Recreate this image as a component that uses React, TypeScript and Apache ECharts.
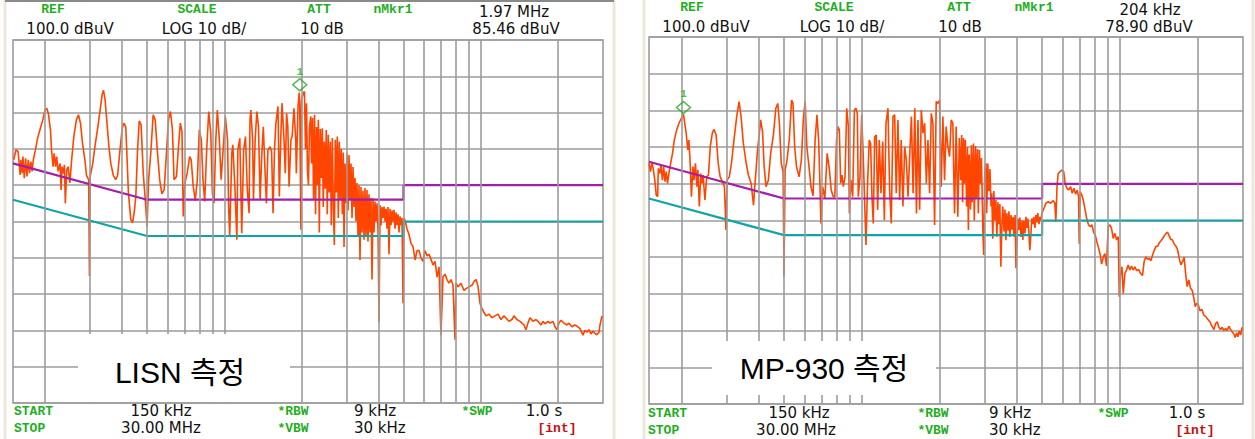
import React, { useEffect, useRef } from "react";
import * as echarts from "echarts";

// ---------- data ----------
const gridFreqs = [0.2, 0.3, 0.4, 0.5, 0.6, 0.7, 0.8, 0.9, 1, 2, 3, 4, 5, 6, 7, 8, 9, 10, 20];
const limitFreq = [0.15, 0.5, 5, 5, 30];
const qpLimit = [66, 56, 56, 60, 60];
const avLimit = [56, 46, 46, 50, 50];

const markerFreq = [1.97, 0.204];
const markerLevel = [85.46, 78.9];
const markerFreqText = ["1.97 MHz", "204 kHz"];
const markerLevelText = ["85.46 dBuV", "78.90 dBuV"];
const headerLabels = ["REF", "SCALE", "ATT", "nMkr1"];
const headerValues = ["100.0 dBuV", "LOG 10 dB/", "10 dB"];
const footerRow1 = ["START", "150 kHz", "*RBW", "9 kHz", "*SWP", "1.0 s"];
const footerRow2 = ["STOP", "30.00 MHz", "*VBW", "30 kHz", "[int]"];
const panelTitles = ["LISN 측정", "MP-930 측정"];

// LISN trace: [MHz, dBuV]
const lisnTrace = [
  [0.151, 67.0], [0.154, 69.7], [0.157, 69.3], [0.16, 62.8], [0.161, 67.0], [0.163, 63.3], [0.164, 67.9], [0.166, 61.9],
  [0.168, 67.4], [0.17, 62.4], [0.172, 67.0], [0.174, 63.3], [0.176, 66.5], [0.178, 63.8], [0.18, 67.0], [0.183, 69.3],
  [0.187, 72.9], [0.191, 75.2], [0.196, 78.0], [0.2, 80.7], [0.203, 81.2], [0.206, 79.8], [0.21, 75.2], [0.212, 69.7],
  [0.215, 65.1], [0.217, 68.8], [0.22, 65.1], [0.222, 67.9], [0.225, 63.8], [0.229, 66.0], [0.231, 58.7], [0.233, 65.1],
  [0.236, 63.3], [0.238, 65.6], [0.24, 55.0], [0.243, 64.2], [0.246, 65.1], [0.25, 60.6], [0.254, 67.0], [0.259, 73.4],
  [0.265, 78.0], [0.27, 79.4], [0.275, 77.1], [0.28, 71.6], [0.286, 67.0], [0.29, 62.8], [0.296, 61.5], [0.298, 35.0],
  [0.3, 62.4], [0.307, 66.0], [0.313, 70.6], [0.32, 75.2], [0.328, 80.7], [0.334, 84.9], [0.338, 86.2], [0.343, 83.5],
  [0.348, 78.0], [0.355, 70.6], [0.361, 66.0], [0.369, 62.8], [0.377, 61.5], [0.384, 62.8], [0.392, 69.7], [0.4, 75.7],
  [0.406, 77.1], [0.413, 76.0], [0.418, 67.0], [0.423, 57.8], [0.432, 50.5], [0.439, 49.7], [0.446, 52.8], [0.452, 56.9],
  [0.459, 69.7], [0.466, 77.7], [0.474, 76.6], [0.483, 63.3], [0.492, 56.0], [0.5, 48.6], [0.507, 61.5], [0.518, 69.7],
  [0.528, 79.4], [0.538, 78.0], [0.548, 69.7], [0.56, 61.5], [0.571, 57.6], [0.583, 58.7], [0.596, 69.7], [0.606, 78.0],
  [0.617, 80.3], [0.628, 75.2], [0.637, 61.5], [0.651, 62.4], [0.663, 70.6], [0.674, 77.1], [0.684, 74.8], [0.692, 51.4],
  [0.702, 60.6], [0.717, 63.3], [0.733, 67.9], [0.743, 67.0], [0.757, 59.6], [0.771, 55.8], [0.785, 61.5], [0.799, 75.2],
  [0.814, 72.5], [0.826, 61.5], [0.839, 55.5], [0.854, 69.7], [0.87, 80.3], [0.886, 74.3], [0.899, 57.8], [0.912, 55.0],
  [0.927, 72.5], [0.94, 80.7], [0.957, 72.5], [0.972, 61.5], [0.99, 69.7], [1.01, 78.9], [1.03, 72.5], [1.04, 54.1],
  [1.05, 45.9], [1.07, 68.8], [1.08, 71.1], [1.1, 59.6], [1.12, 45.0], [1.13, 69.7], [1.15, 72.9], [1.17, 46.8],
  [1.19, 69.7], [1.21, 73.4], [1.23, 58.7], [1.25, 52.3], [1.26, 78.0], [1.27, 80.7], [1.29, 72.5], [1.3, 56.0],
  [1.32, 72.5], [1.34, 80.3], [1.36, 76.1], [1.38, 56.0], [1.4, 67.9], [1.42, 76.1], [1.44, 65.1], [1.46, 55.0],
  [1.48, 69.7], [1.51, 70.6], [1.53, 69.3], [1.55, 52.3], [1.57, 69.7], [1.59, 77.1], [1.62, 81.7], [1.64, 56.9],
  [1.66, 72.5], [1.68, 82.6], [1.71, 72.5], [1.73, 63.3], [1.75, 79.8], [1.77, 76.1], [1.79, 59.6], [1.82, 72.5],
  [1.84, 73.4], [1.87, 81.2], [1.9, 72.5], [1.91, 63.3], [1.94, 81.7], [1.96, 85.5], [1.97, 81.7], [1.99, 47.7],
  [2.0, 83.5], [2.033, 85.3], [2.055, 85.8], [2.074, 70], [2.093, 82.6], [2.111, 64], [2.13, 60], [2.15, 76],
  [2.174, 79], [2.19, 66], [2.21, 78.5], [2.23, 56], [2.25, 79.4], [2.27, 52], [2.291, 76], [2.311, 60],
  [2.328, 78], [2.348, 47], [2.369, 75.5], [2.39, 62], [2.412, 75.7], [2.433, 54], [2.455, 72], [2.477, 59],
  [2.499, 75.2], [2.522, 52], [2.544, 73.9], [2.567, 58], [2.592, 72], [2.615, 49], [2.639, 73], [2.663, 55],
  [2.687, 43.5], [2.711, 72.5], [2.735, 58], [2.76, 73.4], [2.785, 51], [2.81, 72], [2.836, 56], [2.861, 70],
  [2.887, 52], [2.913, 69], [2.932, 43], [2.958, 66], [2.985, 55], [3.012, 68.8], [3.039, 53], [3.066, 68.3],
  [3.094, 56], [3.122, 66], [3.15, 51], [3.178, 65], [3.207, 54], [3.236, 62], [3.265, 50], [3.294, 60.6],
  [3.324, 46], [3.354, 60], [3.384, 39.4], [3.414, 59.5], [3.445, 47], [3.476, 58.5], [3.508, 45], [3.539, 59.2],
  [3.571, 46], [3.603, 58.7], [3.636, 44.5], [3.669, 57.5], [3.703, 47], [3.736, 56.5], [3.77, 34], [3.804, 56.4],
  [3.838, 47], [3.873, 55.5], [3.908, 50], [3.943, 55], [3.978, 48], [4.014, 22.3], [4.051, 54.5], [4.087, 49],
  [4.124, 54], [4.161, 51], [4.199, 54.1], [4.237, 50], [4.275, 53.5], [4.313, 48], [4.352, 54], [4.391, 41],
  [4.431, 53.5], [4.471, 49], [4.511, 53], [4.552, 50], [4.593, 53.2], [4.634, 48], [4.676, 52.5], [4.718, 49],
  [4.761, 52], [4.804, 47], [4.847, 51.4], [4.891, 49], [4.935, 51], [4.979, 27.5], [5.024, 50.9],
  [5.07, 50.4], [5.16, 48], [5.25, 46.5], [5.35, 44], [5.45, 43], [5.55, 39.4], [5.65, 42], [5.75, 42],
  [5.85, 40], [5.96, 39], [6.07, 42], [6.18, 40.5], [6.29, 41], [6.41, 39.5], [6.52, 38], [6.64, 39],
  [6.76, 34.7], [6.88, 37.5], [7.0, 18.7], [7.13, 34.8], [7.26, 35.5], [7.39, 34], [7.52, 33], [7.66, 34],
  [7.8, 32.5], [7.94, 17.4], [8.01, 33], [8.16, 32], [8.38, 33], [8.61, 31], [8.77, 31.5], [9.01, 32],
  [9.26, 32.5], [9.42, 33.5], [9.6, 34], [9.77, 32], [9.94, 27.5], [10.12, 26], [10.3, 25], [10.49, 24],
  [10.77, 24.5], [11.07, 23.5], [11.37, 24], [11.68, 24.5], [12.0, 23], [12.33, 24], [12.55, 23.4], [12.89, 22.5],
  [13.24, 23], [13.48, 24], [13.85, 23], [14.23, 22.5], [14.49, 22], [14.75, 21.5], [15.02, 20.2], [15.29, 22],
  [15.57, 23.5], [16.0, 22.5], [16.43, 23], [16.73, 22.5], [17.19, 21.5], [17.5, 22.5], [17.82, 21.8], [18.3, 22.5],
  [18.63, 22], [19.14, 22.5], [19.49, 21], [19.84, 20.2], [20.2, 22], [20.57, 22.8], [21.13, 22], [21.7, 21.5],
  [22.1, 22], [22.7, 21], [23.3, 21.5], [23.74, 21.2], [24.4, 20.5], [25.06, 18.7], [25.5, 20], [25.97, 19.5],
  [26.44, 20.2], [26.92, 19], [27.4, 19.8], [27.9, 19.2], [28.4, 18.8], [28.94, 19.5], [29.2, 21.5], [29.73, 24],
];

// MP-930 trace: [MHz, dBuV]
const mpTrace = [
  [0.15, 65.6], [0.152, 63.3], [0.154, 66.0], [0.156, 63.7], [0.158, 61.0], [0.16, 56.9], [0.162, 56.5], [0.163, 64.2],
  [0.165, 62.8], [0.167, 65.1], [0.169, 61.0], [0.171, 64.7], [0.173, 60.6], [0.175, 63.3], [0.177, 60.1], [0.18, 63.8],
  [0.182, 65.6], [0.185, 68.3], [0.188, 71.9], [0.192, 74.7], [0.196, 76.5], [0.2, 77.8], [0.204, 78.9], [0.206, 76.9],
  [0.209, 73.8], [0.212, 69.2], [0.214, 71.9], [0.216, 67.4], [0.219, 56.5], [0.222, 64.7], [0.224, 61.0], [0.227, 65.6],
  [0.23, 59.2], [0.232, 63.8], [0.235, 53.8], [0.238, 62.8], [0.241, 60.1], [0.243, 62.4], [0.247, 55.6], [0.251, 61.9],
  [0.255, 62.4], [0.259, 70.1], [0.264, 73.9], [0.268, 74.8], [0.273, 73.3], [0.278, 65.6], [0.283, 61.9], [0.289, 60.6],
  [0.294, 59.2], [0.298, 47.4], [0.301, 61.0], [0.307, 61.9], [0.313, 65.6], [0.32, 71.9], [0.328, 78.3], [0.335, 82.4],
  [0.341, 78.3], [0.348, 71.0], [0.357, 65.6], [0.364, 62.4], [0.373, 60.1], [0.381, 54.2], [0.387, 61.0], [0.395, 69.2],
  [0.401, 73.3], [0.406, 77.4], [0.413, 74.2], [0.419, 64.7], [0.426, 59.2], [0.435, 61.0], [0.444, 68.3], [0.455, 73.3],
  [0.465, 80.6], [0.473, 81.9], [0.48, 76.5], [0.488, 65.6], [0.496, 63.3], [0.5, 34.7], [0.505, 63.8], [0.513, 66.0],
  [0.524, 71.9], [0.535, 82.8], [0.542, 81.9], [0.55, 70.1], [0.559, 64.7], [0.572, 61.9], [0.584, 66.5], [0.594, 77.4],
  [0.604, 82.4], [0.613, 70.1], [0.625, 64.7], [0.636, 59.2], [0.648, 56.7], [0.66, 71.9], [0.671, 78.8], [0.681, 71.9],
  [0.689, 60.1], [0.695, 49.2], [0.706, 59.2], [0.72, 56.0], [0.735, 68.3], [0.749, 64.2], [0.762, 58.3], [0.776, 56.5],
  [0.787, 56.5], [0.799, 71.9], [0.809, 75.6], [0.819, 74.7], [0.829, 60.1], [0.839, 62.4], [0.849, 59.2], [0.862, 61.9],
  [0.875, 80.6], [0.888, 75.6], [0.896, 51.9], [0.909, 61.0], [0.923, 56.5], [0.937, 80.1], [0.95, 80.6], [0.962, 79.2],
  [0.97, 56.5], [0.985, 61.9], [1.0, 78.8], [1.015, 66.5], [1.03, 51.9], [1.039, 43.3], [1.055, 61.0], [1.07, 71.9],
  [1.083, 71.0], [1.096, 56.5], [1.109, 49.2], [1.123, 72.8], [1.139, 73.3], [1.153, 52.9], [1.17, 71.9], [1.188, 57.4],
  [1.206, 71.5], [1.224, 50.1], [1.242, 76.5], [1.264, 80.6], [1.283, 58.3], [1.302, 49.2], [1.322, 78.3], [1.342, 78.8],
  [1.361, 57.4], [1.382, 77.4], [1.403, 55.6], [1.423, 71.9], [1.445, 53.8], [1.468, 70.1], [1.489, 66.5], [1.512, 56.5],
  [1.536, 68.3], [1.558, 78.3], [1.582, 57.4], [1.606, 80.6], [1.63, 51.9], [1.652, 77.4], [1.677, 52.9], [1.702, 80.1],
  [1.728, 73.8], [1.754, 76.5], [1.78, 60.1], [1.806, 71.9], [1.833, 57.4], [1.86, 79.2], [1.888, 76.5], [1.916, 48.8],
  [1.944, 82.4], [1.974, 81.9], [2.003, 82.8], [2.033, 59.2], [2.063, 78.3], [2.094, 61.0], [2.124, 75.6], [2.157, 70.1],
  [2.19, 67.4], [2.222, 77.4], [2.255, 76.5], [2.289, 51.9], [2.322, 75.6], [2.357, 51.0],
  [2.39, 72.5], [2.42, 61], [2.44, 73.3], [2.46, 55], [2.48, 72.5], [2.5, 60], [2.52, 72], [2.55, 53.8],
  [2.57, 70], [2.59, 47.4], [2.61, 68], [2.64, 53], [2.66, 70.5], [2.68, 55], [2.71, 71], [2.73, 50],
  [2.76, 70.3], [2.78, 56], [2.81, 69.5], [2.83, 52], [2.86, 69.2], [2.88, 60], [2.91, 67], [2.95, 46],
  [2.97, 40.6], [3.0, 64], [3.03, 65.6], [3.05, 52], [3.08, 65.5], [3.11, 58], [3.14, 64], [3.17, 53.8],
  [3.19, 57.4], [3.22, 45], [3.25, 58], [3.28, 50], [3.31, 55.6], [3.34, 45.6], [3.37, 55], [3.4, 49],
  [3.43, 54.5], [3.46, 37.4], [3.49, 48], [3.52, 53.8], [3.56, 47], [3.59, 53], [3.62, 44.6], [3.65, 52],
  [3.69, 47.2], [3.72, 52.5], [3.75, 45.5], [3.79, 51.5], [3.82, 47.5], [3.86, 51], [3.89, 45.6], [3.93, 51.5],
  [3.96, 37], [4.0, 45], [4.03, 50.5], [4.07, 47.4], [4.1, 50.8], [4.14, 45.5], [4.18, 50], [4.21, 44.7],
  [4.25, 50], [4.29, 46.5], [4.33, 51], [4.37, 48], [4.4, 50.5], [4.44, 47], [4.48, 41.9], [4.52, 46],
  [4.56, 50.5], [4.6, 49], [4.64, 51], [4.69, 48], [4.73, 51.5], [4.77, 49.5], [4.81, 52], [4.86, 49],
  [4.9, 51], [4.94, 50], [4.99, 52],
  [5.05, 52.8], [5.17, 54.7], [5.28, 55.1], [5.39, 54.7], [5.52, 55.4], [5.6, 54.7], [5.65, 49.7], [5.71, 59.2],
  [5.77, 62.8], [5.86, 63.3], [5.96, 63.7], [6.06, 63.3], [6.14, 60.1], [6.24, 58.8], [6.33, 58.3], [6.45, 59.2],
  [6.54, 57.4], [6.64, 58.8], [6.74, 57.2], [6.84, 58.3], [6.92, 56.5], [6.96, 43.7], [7.02, 57.8], [7.13, 56.9],
  [7.24, 55.1], [7.34, 52.8], [7.46, 50.1], [7.57, 48.8], [7.68, 48.3], [7.8, 48.8], [7.91, 46.9], [8.03, 46],
  [8.15, 44.2], [8.28, 42.4], [8.4, 40.6], [8.5, 38.1], [8.63, 40.1], [8.75, 41], [8.88, 37.6], [9.01, 48.3],
  [9.15, 48.8], [9.29, 47.8], [9.43, 45.1], [9.57, 46.5], [9.72, 44.7], [9.86, 45.6], [9.95, 29.2], [10.07, 35.6],
  [10.19, 37.4], [10.31, 30.1], [10.46, 35.6], [10.62, 36.5], [10.77, 37.9], [10.94, 36.5], [11.1, 37.6], [11.27, 36.5],
  [11.44, 37.4], [11.61, 36.3], [11.81, 36.7], [12.03, 35.6], [12.24, 35], [12.42, 38.8], [12.61, 40.1], [12.81, 39.4],
  [13.0, 39.7], [13.19, 39], [13.39, 40.6], [13.58, 41.8], [13.8, 43], [14.01, 42.9], [14.21, 43.9], [14.43, 44.5],
  [14.65, 45.1], [14.86, 45.8], [15.09, 46.5], [15.31, 46.8], [15.53, 45.8], [15.77, 44.8], [16.0, 44.7], [16.24, 43.6],
  [16.49, 43], [16.73, 42.1], [16.98, 39.7], [17.24, 37.9], [17.5, 38.8], [17.75, 40], [17.98, 35.6], [18.23, 32],
  [18.51, 33.8], [18.79, 31.5], [19.07, 31], [19.36, 28.8], [19.59, 26.5], [19.83, 27.4], [20.11, 27.2], [20.42, 25.4],
  [20.79, 25.8], [21.16, 24.2], [21.54, 23.8], [21.94, 23], [22.33, 22.4], [22.73, 21.2], [23.14, 20.3], [23.49, 21.9],
  [23.83, 22.4], [24.19, 20.9], [24.56, 20.3], [24.92, 20.9], [25.3, 20], [25.68, 20.6], [26.06, 20], [26.45, 21.2],
  [26.85, 20.3], [27.24, 19.7], [27.65, 19.1], [27.98, 18.1], [28.33, 19.4], [28.66, 18.3], [29.0, 19.9], [29.37, 18.8],
  [29.74, 20.9],
];

// ---------- styling ----------
const TRACE = "#ff4500";
const QP = "#a41ea6";
const AV = "#12a4a4";
const GRID = "#9c9c9c";
const GREEN = "#1eae1e";
const BLACK_FONT = "15px 'DejaVu Sans', sans-serif";
const GREEN_FONT = "bold 13px 'Liberation Mono', monospace";

const panels = [
  {
    grid: { left: 13, top: 40, width: 590, height: 363 },
    trace: lisnTrace,
    markerOffset: -8,
    labelX: [53, 197, 319, 393], labelY: 9,
    valueX: [70, 204, 322], valueY: 29,
    mkrFreqX: 514, mkrFreqY: 12, mkrLevelX: 516, mkrLevelY: 29,
    row1Y: 411, row2Y: 428,
    row1: [[14, "left"], [161, "center"], [293, "center"], [354, "left"], [477, "center"], [544, "center"]],
    row2: [[14, "left"], [161, "center"], [293, "center"], [354, "left"], [557, "center"]],
    box: { x: 78, y: 334, width: 212, height: 68 },
    title: { x: 180, y: 372 },
  },
  {
    grid: { left: 649, top: 37, width: 594, height: 367 },
    trace: mpTrace,
    markerOffset: -7,
    labelX: [692, 834, 959, 1034], labelY: 7,
    valueX: [706, 842, 960], valueY: 27,
    mkrFreqX: 1150, mkrFreqY: 10, mkrLevelX: 1149, mkrLevelY: 27,
    row1Y: 413, row2Y: 430,
    row1: [[648, "left"], [799, "center"], [933, "center"], [989, "left"], [1113, "center"], [1187, "center"]],
    row2: [[648, "left"], [796, "center"], [933, "center"], [989, "left"], [1195, "center"]],
    box: { x: 712, y: 341, width: 224, height: 54 },
    title: { x: 824, y: 368 },
  },
];

function txt(text: string, x: number, y: number, font: string, fill: string, align = "center") {
  return {
    type: "text",
    x,
    y,
    z: 60,
    style: { text, font, fill, align, verticalAlign: "middle", textAlign: align, textVerticalAlign: "middle" },
  };
}

function buildOption() {
  const grids: any[] = [];
  const xAxes: any[] = [];
  const yAxes: any[] = [];
  const series: any[] = [];
  const graphics: any[] = [];

  panels.forEach((p, i) => {
    grids.push({ ...p.grid, show: true, borderColor: GRID, borderWidth: 1.6, backgroundColor: "#fff" });
    xAxes.push({
      gridIndex: i, type: "log", logBase: 10, min: 0.15, max: 30,
      axisLine: { show: false }, axisTick: { show: false }, axisLabel: { show: false }, splitLine: { show: false },
    });
    yAxes.push({
      gridIndex: i, type: "value", min: 0, max: 100, interval: 10,
      axisLine: { show: false }, axisTick: { show: false }, axisLabel: { show: false },
      splitLine: { show: true, lineStyle: { color: GRID, width: 1.6 } },
    });
    series.push({
      type: "line", xAxisIndex: i, yAxisIndex: i, data: [], z: 1, silent: true,
      markLine: {
        silent: true, symbol: ["none", "none"], label: { show: false }, animation: false,
        lineStyle: { color: GRID, width: 1.6, type: "solid" },
        emphasis: { disabled: true },
        data: gridFreqs.map((f) => ({ xAxis: f })),
      },
    });
    series.push({
      type: "line", xAxisIndex: i, yAxisIndex: i, data: p.trace, showSymbol: false, symbol: "none",
      lineStyle: { color: TRACE, width: 1.6 }, z: 2, silent: true,
    });
    series.push({
      type: "line", xAxisIndex: i, yAxisIndex: i, data: limitFreq.map((f, k) => [f, qpLimit[k]]),
      showSymbol: false, symbol: "none", lineStyle: { color: QP, width: 2.2 }, z: 3, silent: true,
    });
    series.push({
      type: "line", xAxisIndex: i, yAxisIndex: i, data: limitFreq.map((f, k) => [f, avLimit[k]]),
      showSymbol: false, symbol: "none", lineStyle: { color: AV, width: 2.2 }, z: 3, silent: true,
    });
    series.push({
      type: "scatter", xAxisIndex: i, yAxisIndex: i, data: [[markerFreq[i], markerLevel[i]]],
      symbol: "diamond", symbolSize: [14, 12], symbolOffset: [0, p.markerOffset], z: 5, silent: true,
      itemStyle: { color: "rgba(0,0,0,0)", borderColor: GREEN, borderWidth: 1.5 },
      label: { show: true, formatter: "1", position: "top", distance: 1, color: GREEN, fontSize: 11, fontWeight: "bold", fontFamily: "'Liberation Mono', monospace" },
    });

    headerLabels.forEach((t, k) => graphics.push(txt(t, p.labelX[k], p.labelY, GREEN_FONT, GREEN)));
    headerValues.forEach((t, k) => graphics.push(txt(t, p.valueX[k], p.valueY, BLACK_FONT, "#111")));
    graphics.push(txt(markerFreqText[i], p.mkrFreqX, p.mkrFreqY, BLACK_FONT, "#111"));
    graphics.push(txt(markerLevelText[i], p.mkrLevelX, p.mkrLevelY, BLACK_FONT, "#111"));
    footerRow1.forEach((t, k) => {
      const green = k % 2 === 0;
      graphics.push(txt(t, p.row1[k][0] as number, p.row1Y, green ? GREEN_FONT : BLACK_FONT, green ? GREEN : "#111", p.row1[k][1] as string));
    });
    footerRow2.forEach((t, k) => {
      const isInt = k === 4;
      const green = k % 2 === 0 && !isInt;
      graphics.push(
        txt(t, p.row2[k][0] as number, p.row2Y,
          isInt ? "bold 13px 'Liberation Mono', monospace" : green ? GREEN_FONT : BLACK_FONT,
          isInt ? "#c41010" : green ? GREEN : "#111", p.row2[k][1] as string)
      );
    });
    graphics.push({ type: "rect", z: 55, shape: { ...p.box }, style: { fill: "#fff" } });
    graphics.push(txt(panelTitles[i], p.title.x, p.title.y, "30px 'Liberation Sans', 'Noto Sans CJK KR', sans-serif", "#000"));
  });

  const frame = [
    [5, 0, 5, 439], [614, 0, 614, 439], [644, 0, 644, 439], [1253, 0, 1253, 439],
  ];
  frame.forEach(([x1, y1, x2, y2]) =>
    graphics.push({ type: "line", z: 40, shape: { x1, y1, x2, y2 }, style: { stroke: "#ebe7da", lineWidth: 3 } })
  );
  graphics.push({ type: "line", z: 40, shape: { x1: 5, y1: 1, x2: 614, y2: 1 }, style: { stroke: "#8a8a8a", lineWidth: 2 } });

  return {
    animation: false,
    backgroundColor: "#ffffff",
    grid: grids,
    xAxis: xAxes,
    yAxis: yAxes,
    series,
    graphic: { elements: graphics },
  };
}

export default function App() {
  const ref = useRef<HTMLDivElement>(null);
  useEffect(() => {
    if (!ref.current) return;
    const chart = echarts.init(ref.current, undefined, { renderer: "svg" });
    chart.setOption(buildOption() as any);
    return () => chart.dispose();
  }, []);
  return <div ref={ref} style={{ position: "fixed", left: 0, top: 0, width: 1255, height: 439 }} />;
}
